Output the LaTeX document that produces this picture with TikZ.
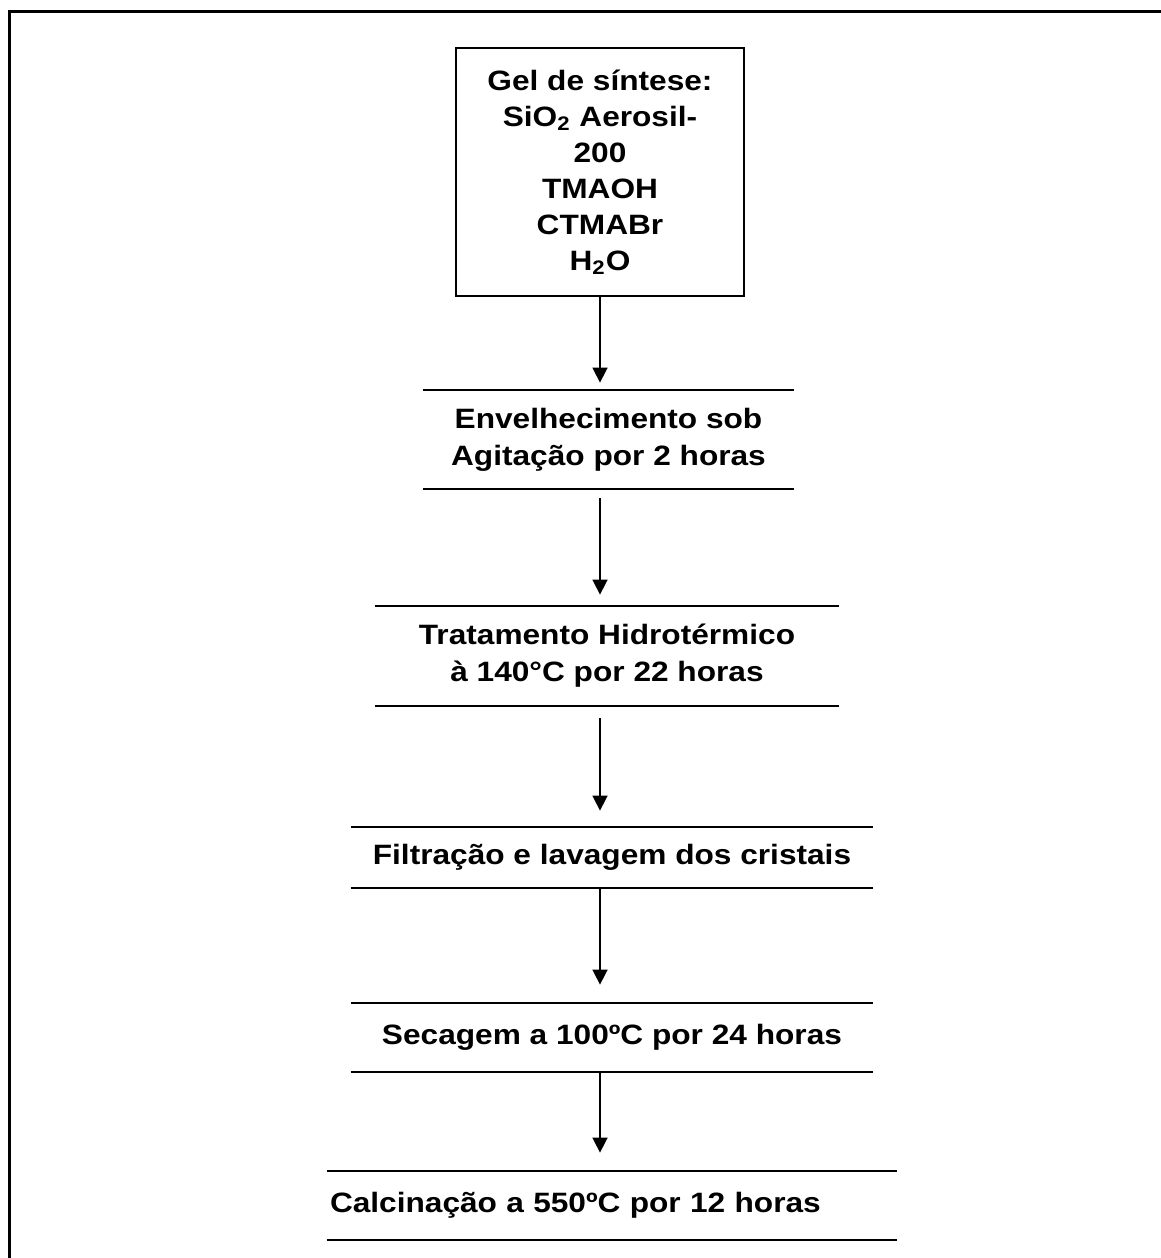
\documentclass[tikz,border=0pt]{standalone}
\usepackage{fontspec}
\setmainfont{Liberation Sans}[FakeStretch=1.13]
\usetikzlibrary{arrows.meta}

\begin{document}
\begin{tikzpicture}[
  x=0.5pt, y=-0.5pt,
  font=\fontsize{14pt}{18pt}\selectfont\bfseries,
  frame/.style={line width=1.5pt},
  gelbox/.style={draw, line width=1pt, inner sep=0pt, align=center,
    minimum width=144pt, minimum height=124pt},
  stage/.style={inner sep=0pt, align=center},
  rule/.style={line width=1pt},
  flow/.style={line width=0.8pt, -{Triangle[width=7.5pt,length=7.5pt]}}
]
\useasboundingbox (0,0) rectangle (1161,1258);

% outer frame (open towards the bottom and right of the page)
\draw[frame] (9,1258) -- (9,11) -- (1161,11);

% starting material
\node[gelbox] (gel) at (600,172)
  {Gel de síntese:\\SiO\textsubscript{2} Aerosil-\\200\\TMAOH\\CTMABr\\H\textsubscript{2}O};

% process stages, each between two horizontal rules
\node[stage, minimum width=185.5pt, minimum height=49.5pt] (s1) at (608.5,439.5)
  {Envelhecimento sob\\[0.6pt]Agitação por 2 horas};
\node[stage, minimum width=232pt, minimum height=50pt] (s2) at (607,656)
  {Tratamento Hidrotérmico\\[0.6pt]à 140°C por 22 horas};
\node[stage, minimum width=261pt, minimum height=30.5pt] (s3) at (612,857.5)
  {Filtração e lavagem dos cristais};
\node[stage, minimum width=261pt, minimum height=34.5pt] (s4) at (612,1037.5)
  {Secagem a 100ºC por 24 horas};
\node[stage, minimum width=285pt, minimum height=34.5pt, text width=282pt, align=left] (s5) at (612,1205.5)
  {Calcinação a 550ºC por 12 horas};

\foreach \s in {s1,s2,s3,s4,s5}{
  \draw[rule] (\s.north west) -- (\s.north east);
  \draw[rule] (\s.south west) -- (\s.south east);
}

% connectors along the central spine
\draw[flow, shorten >=3.5pt] (gel.south) -- (gel.south |- s1.north);
\draw[flow, shorten <=4.5pt, shorten >=5.5pt] (gel.south |- s1.south) -- (gel.south |- s2.north);
\draw[flow, shorten <=6pt, shorten >=8pt] (gel.south |- s2.south) -- (gel.south |- s3.north);
\draw[flow, shorten >=9pt] (gel.south |- s3.south) -- (gel.south |- s4.north);
\draw[flow, shorten >=9pt] (gel.south |- s4.south) -- (gel.south |- s5.north);
\end{tikzpicture}
\end{document}
